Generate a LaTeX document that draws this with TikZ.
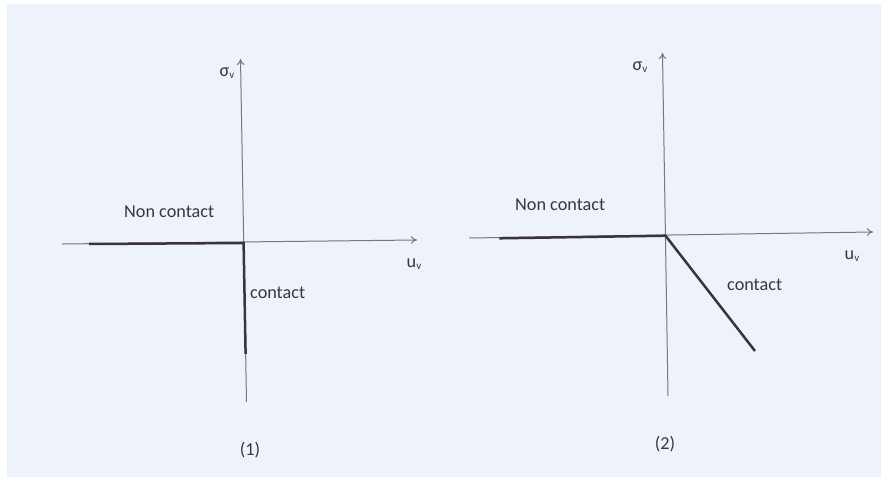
\documentclass[tikz,border=0pt]{standalone}
\usepackage{fontspec}
\setmainfont{Carlito}
\usetikzlibrary{arrows.meta}
\definecolor{paper}{HTML}{EEF2FA}
\definecolor{axisc}{HTML}{77777D}
\definecolor{thickc}{HTML}{3A3338}
\definecolor{txtc}{HTML}{38383C}
\tikzset{
  axis/.style={draw=axisc, line width=1pt, -{To[length=6pt,width=7.5pt]}},
  branch/.style={draw=thickc, line width=2.5pt},
  lbl/.style={text=txtc, font=\fontsize{18.2}{20}\selectfont, inner sep=0pt},
}
\newcommand{\sigv}{σ\raisebox{-2.5pt}{\fontsize{11}{12}\selectfont v}}
\newcommand{\uv}{u\raisebox{-2.5pt}{\fontsize{11}{12}\selectfont v}}
\begin{document}
\begin{tikzpicture}[x=1pt,y=-1pt]
\useasboundingbox (0,0) rectangle (886,481);
\fill[white] (0,0) rectangle (886,481);
\fill[paper] (7,4) rectangle (881,477);

% ---- diagram 1 ----
\coordinate (h1l) at (62,244);
\coordinate (h1r) at (417,240);
\coordinate (v1t) at (240.5,59);
\coordinate (v1b) at (246.5,402);
\coordinate (o1) at (243.6,243);
\coordinate (t1l) at (89,244);
\coordinate (t1b) at (245.6,354);
\draw[axis] (h1l) -- (h1r);
\draw[axis] (v1b) -- (v1t);
\draw[branch] (t1l) -- (o1) -- (t1b);
\node[lbl, anchor=base west] (nc1) at (124,217.5) {Non contact};
\node[lbl, anchor=base west] (c1) at (250,298) {contact};
\node[lbl] (s1) at (227,73) {\sigv};
\node[lbl] (u1) at (414,264) {\uv};
\node[lbl] (n1) at (250,450) {(1)};

% ---- diagram 2 ----
\coordinate (h2l) at (469,238);
\coordinate (h2r) at (873,232);
\coordinate (v2t) at (662.5,53);
\coordinate (v2b) at (668,396);
\coordinate (o2) at (665.5,235.7);
\coordinate (t2l) at (499.4,238.3);
\coordinate (t2b) at (755,351);
\draw[axis] (h2l) -- (h2r);
\draw[axis] (v2b) -- (v2t);
\draw[branch] (t2l) -- (o2) -- (t2b);
\node[lbl, anchor=base west] (nc2) at (515,211) {Non contact};
\node[lbl, anchor=base west] (c2) at (727,290) {contact};
\node[lbl] (s2) at (640,67) {\sigv};
\node[lbl] (u2) at (852,256) {\uv};
\node[lbl] (n2) at (665,444) {(2)};
\end{tikzpicture}
\end{document}
